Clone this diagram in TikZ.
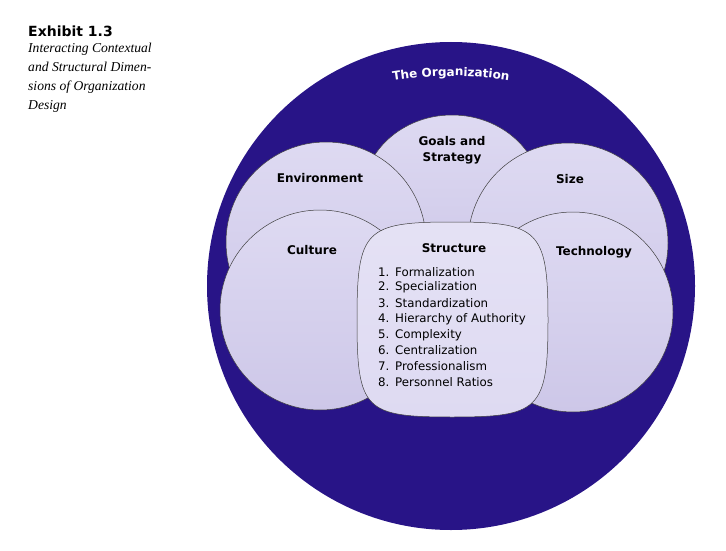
\documentclass[tikz,border=0pt]{standalone}
\usepackage{fontspec}
\setmainfont{DejaVu Sans}
\newfontfamily\capfont{Liberation Serif}
\usetikzlibrary{decorations.text}

\definecolor{orgblue}{RGB}{40,20,135}
\definecolor{lilac}{RGB}{205,199,232}
\definecolor{lilaclight}{RGB}{222,218,242}
\newcommand{\orgfont}{\fontsize{12}{14}\selectfont\bfseries\color{white}}

\begin{document}
\begin{tikzpicture}[x=1pt, y=-1pt,
    bubble/.style={draw=black!75, line width=0.5pt, top color=lilaclight, bottom color=lilac},
    facet/.style={font=\fontsize{12}{16}\selectfont\bfseries, align=center},
    listitem/.style={font=\fontsize{11.8}{14}\selectfont, anchor=west, inner sep=0pt}]
    \useasboundingbox[fill=white] (0,0) rectangle (726,551);

    % caption
    \node[anchor=west, inner sep=0pt, font=\fontsize{14}{16}\selectfont\bfseries] (exhibit) at (28,31) {Exhibit 1.3};
    \node[anchor=north west, inner sep=0pt, align=left, font=\capfont\fontsize{13.6}{19}\selectfont\itshape] (caption) at (28,43)
        {Interacting Contextual\\and Structural Dimen-\\sions of Organization\\Design};

    % the organization
    \draw[fill=orgblue, draw=none] (451,286) circle (244);
    \path[decorate, decoration={text along path, text align=center,
        text={|\orgfont|The Organization}}] (385,82) .. controls (430,74) and (472,74) .. (517,82);

    % contextual dimensions
    \draw[bubble] (452,197) ellipse (90 and 82);
    \draw[bubble] (326,242) circle (100);
    \draw[bubble] (568,243) circle (100);
    \draw[bubble] (320,310) circle (100);
    \draw[bubble] (573,312) circle (100);

    % structure
    \draw[bubble, top color=lilaclight!80!white, bottom color=lilaclight] (452,222) .. controls (365,222) and (357,230) .. (357,320)
        .. controls (357,410) and (365,417) .. (452,417)
        .. controls (539,417) and (548,410) .. (548,320)
        .. controls (548,230) and (539,222) .. (452,222) -- cycle;

    \node[facet] (goals) at (452,150) {Goals and\\Strategy};
    \node[facet] (env) at (320,178) {Environment};
    \node[facet] (size) at (570,179) {Size};
    \node[facet] (culture) at (312,250) {Culture};
    \node[facet] (struct) at (454,248) {Structure};
    \node[facet] (tech) at (594,252) {Technology};

    \foreach \item [count=\i] in {Formalization, Specialization, Standardization, Hierarchy of Authority,
        Complexity, Centralization, Professionalism, Personnel Ratios} {
        \node[listitem] (s\i) at (378,{272+15.7*(\i-1)}) {\makebox[17pt][l]{\i.}\item};
    }
\end{tikzpicture}
\end{document}
